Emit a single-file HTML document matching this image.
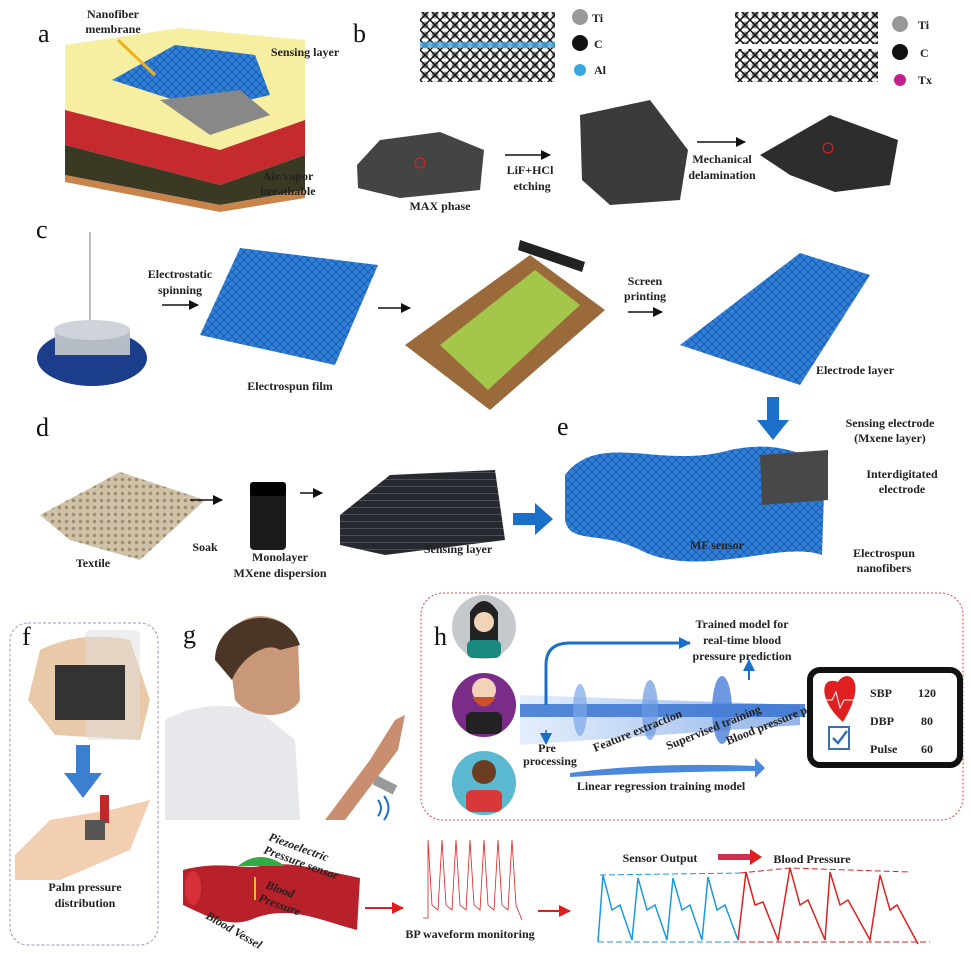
<!DOCTYPE html>
<html><head><meta charset="utf-8"><style>
html,body{margin:0;padding:0;background:#fff}
svg{display:block}
text{font-family:"Liberation Serif",serif;font-weight:bold;font-size:12px;fill:#222}
.L{font-weight:normal;font-size:26px;fill:#111}
.c{text-anchor:middle}
</style></head><body>
<svg width="971" height="954" viewBox="0 0 971 954" xmlns="http://www.w3.org/2000/svg">
<defs>
<pattern id="mesh" width="8" height="8" patternUnits="userSpaceOnUse"><rect width="8" height="8" fill="#2f80d8"/><path d="M0 8L8 0M0 0L8 8" stroke="#1a55a8" stroke-width=".8"/></pattern>
<pattern id="dmesh" width="7" height="7" patternUnits="userSpaceOnUse"><rect width="7" height="7" fill="#262a30"/><path d="M0 3.5H7" stroke="#4a4e55" stroke-width="1"/></pattern>
<pattern id="tex" width="7" height="7" patternUnits="userSpaceOnUse"><rect width="7" height="7" fill="#cfc2a8"/><circle cx="3.5" cy="3.5" r="1.8" fill="#a09070"/></pattern>
<pattern id="xtal" width="10" height="10" patternUnits="userSpaceOnUse"><rect width="10" height="10" fill="#fff"/><circle cx="5" cy="5" r="3.5" fill="#999"/><path d="M0 0L10 10M10 0L0 10" stroke="#111" stroke-width="1.5"/></pattern>
<marker id="ah" markerUnits="userSpaceOnUse" markerWidth="10" markerHeight="10" refX="9" refY="5" orient="auto"><path d="M0 0L10 5L0 10z" fill="#111"/></marker>
<marker id="ar" markerUnits="userSpaceOnUse" markerWidth="12" markerHeight="12" refX="11" refY="6" orient="auto"><path d="M0 0L12 6L0 12z" fill="#e02020"/></marker>
<marker id="ab" markerUnits="userSpaceOnUse" markerWidth="12" markerHeight="12" refX="11" refY="6" orient="auto"><path d="M0 0L12 6L0 12z" fill="#1a6fc9"/></marker>
<linearGradient id="beam" x1="0" x2="1"><stop offset="0" stop-color="#cfe2fb"/><stop offset="1" stop-color="#3b78d8"/></linearGradient>
</defs>

<!-- a -->
<text class="L" x="38" y="42">a</text>
<path d="M65 45 L180 28 L305 40 L305 120 L220 150 L65 110Z" fill="#f6eea0"/>
<path d="M65 110 L220 150 L305 120 L305 155 L220 185 L65 145Z" fill="#c42a2e"/>
<path d="M65 145 L220 185 L305 155 L305 190 L220 205 L65 175Z" fill="#3a3a24"/>
<path d="M65 175 L220 205 L305 190 L305 198 L220 212 L65 182Z" fill="#c8844a"/>
<path d="M112 80 L175 45 L255 55 L270 95 L205 110Z" fill="url(#mesh)"/>
<path d="M160 100 L240 90 L270 115 L210 135Z" fill="#888"/>
<line x1="118" y1="40" x2="155" y2="75" stroke="#f0b020" stroke-width="3"/>
<text class="c" x="113" y="18">Nanofiber</text><text class="c" x="113" y="33">membrane</text>
<text class="c" x="305" y="56">Sensing layer</text>
<text class="c" x="288" y="180">Air/vapor</text><text class="c" x="288" y="195">breathable</text>

<!-- b -->
<text class="L" x="353" y="42">b</text>
<rect x="420" y="12" width="135" height="70" fill="url(#xtal)"/>
<rect x="420" y="42" width="135" height="6" fill="#4aa8e0" opacity=".8"/>
<rect x="735" y="12" width="143" height="70" fill="url(#xtal)"/>
<rect x="735" y="44" width="143" height="5" fill="#fff"/>
<circle cx="580" cy="17" r="8" fill="#999"/><text x="592" y="22">Ti</text>
<circle cx="580" cy="43" r="8" fill="#111"/><text x="594" y="48">C</text>
<circle cx="580" cy="70" r="6" fill="#36a8e0"/><text x="594" y="74">Al</text>
<circle cx="900" cy="24" r="8" fill="#999"/><text x="918" y="29">Ti</text>
<circle cx="900" cy="52" r="8" fill="#111"/><text x="920" y="57">C</text>
<circle cx="900" cy="80" r="6" fill="#c0208a"/><text x="918" y="84">Tx</text>
<path d="M357 165 L380 140 L440 132 L484 150 L480 190 L400 198 L358 188Z" fill="#444"/>
<path d="M580 115 L650 100 L688 150 L680 200 L610 205 L582 180Z" fill="#3b3b3b"/>
<path d="M760 155 L830 115 L898 140 L890 185 L835 192 L790 175Z" fill="#2d2d2d"/>
<circle cx="420" cy="163" r="5" fill="none" stroke="#e02020"/>
<circle cx="828" cy="148" r="5" fill="none" stroke="#e02020"/>
<text class="c" x="440" y="210">MAX phase</text>
<line x1="505" y1="155" x2="550" y2="155" stroke="#111" stroke-width="1.5" marker-end="url(#ah)"/>
<text class="c" x="530" y="174">LiF+HCl</text><text class="c" x="532" y="190">etching</text>
<line x1="697" y1="142" x2="745" y2="142" stroke="#111" stroke-width="1.5" marker-end="url(#ah)"/>
<text class="c" x="722" y="163">Mechanical</text><text class="c" x="722" y="179">delamination</text>

<!-- c -->
<text class="L" x="36" y="238">c</text>
<line x1="90" y1="232" x2="90" y2="320" stroke="#777"/>
<ellipse cx="92" cy="358" rx="55" ry="28" fill="#1b3d8a"/>
<rect x="55" y="330" width="75" height="25" fill="#b5bcc6"/>
<ellipse cx="92" cy="330" rx="38" ry="10" fill="#cfd4da"/>
<text class="c" x="180" y="278">Electrostatic</text><text class="c" x="180" y="294">spinning</text>
<line x1="162" y1="305" x2="198" y2="305" stroke="#111" stroke-width="1.5" marker-end="url(#ah)"/>
<path d="M240 248 L378 265 L335 365 L200 335Z" fill="url(#mesh)"/>
<text class="c" x="290" y="390">Electrospun film</text>
<line x1="378" y1="308" x2="410" y2="308" stroke="#111" stroke-width="1.5" marker-end="url(#ah)"/>
<path d="M405 345 L530 255 L605 310 L490 410Z" fill="#9a6a3a"/>
<path d="M440 345 L535 270 L580 305 L488 390Z" fill="#a4c64a"/>
<path d="M520 240 L585 262 L582 272 L518 250Z" fill="#222"/>
<text class="c" x="645" y="285">Screen</text><text class="c" x="645" y="300">printing</text>
<line x1="628" y1="312" x2="662" y2="312" stroke="#111" stroke-width="1.5" marker-end="url(#ah)"/>
<path d="M800 253 L870 275 L800 385 L680 345Z" fill="url(#mesh)"/>
<text class="c" x="855" y="374">Electrode layer</text>
<path d="M767 397h12v23h10l-16 20-16-20h10z" fill="#1a70c8"/>

<!-- d -->
<text class="L" x="36" y="436">d</text>
<path d="M40 515 L120 472 L205 500 L140 560 L70 540Z" fill="url(#tex)"/>
<text class="c" x="93" y="567">Textile</text>
<line x1="190" y1="500" x2="222" y2="500" stroke="#111" stroke-width="1.5" marker-end="url(#ah)"/>
<text class="c" x="205" y="551">Soak</text>
<rect x="250" y="488" width="36" height="62" rx="4" fill="#1a1a1a"/>
<rect x="250" y="482" width="36" height="14" rx="3" fill="#000"/>
<text class="c" x="280" y="561">Monolayer</text><text class="c" x="280" y="577">MXene dispersion</text>
<line x1="300" y1="493" x2="322" y2="493" stroke="#111" stroke-width="1.5" marker-end="url(#ah)"/>
<path d="M340 515 L390 475 L495 470 L505 540 L385 555 L340 545Z" fill="url(#dmesh)"/>
<text class="c" x="458" y="553">Sensing layer</text>
<path d="M513 513h22v-10l18 16-18 16v-10h-22z" fill="#1a70c8"/>

<!-- e -->
<text class="L" x="557" y="435">e</text>
<path d="M565 475 C600 430 660 470 730 450 C780 440 800 455 825 462 L822 555 C780 540 700 580 640 550 C600 530 570 545 565 520Z" fill="url(#mesh)"/>
<path d="M760 455 L828 450 L828 500 L762 505Z" fill="#484848"/>
<text class="c" x="717" y="549">MF sensor</text>
<text class="c" x="890" y="427">Sensing electrode</text><text class="c" x="890" y="442">(Mxene layer)</text>
<text class="c" x="902" y="478">Interdigitated</text><text class="c" x="902" y="493">electrode</text>
<text class="c" x="884" y="557">Electrospun</text><text class="c" x="884" y="572">nanofibers</text>

<!-- f -->
<rect x="10" y="623" width="148" height="322" rx="18" fill="none" stroke="#9a9ac0" stroke-dasharray="3 2"/>
<text class="L" x="22" y="645">f</text>
<path d="M40 650 Q80 630 130 640 L150 700 L140 740 L55 735 L28 700Z" fill="#e8caa8"/>
<rect x="85" y="630" width="55" height="110" rx="6" fill="#ddd" opacity=".5"/>
<rect x="55" y="665" width="70" height="55" fill="#333"/>
<path d="M76 745h14v28h12l-19 25-19-25h12z" fill="#3a7fd0"/>
<path d="M15 855 L50 820 L110 810 L150 800 L130 850 L60 880 L15 880Z" fill="#f2cfb0"/>
<rect x="100" y="795" width="9" height="28" fill="#c0282a"/>
<rect x="85" y="820" width="20" height="20" fill="#555"/>
<text class="c" x="85" y="891" font-size="13">Palm pressure</text><text class="c" x="85" y="907" font-size="13">distribution</text>

<!-- g -->
<text class="L" x="183" y="643">g</text>
<path d="M165 720 C200 700 240 705 260 712 L295 740 L300 820 L165 820Z" fill="#e6e8ec"/>
<path d="M228 645 C230 610 280 605 298 640 L300 700 C290 720 250 720 235 700Z" fill="#c99878"/>
<path d="M215 660 C215 615 285 600 300 645 L280 650 C265 640 240 660 232 680Z" fill="#4a3526"/>
<path d="M325 820 L370 760 L395 720 L405 715 L398 750 L345 820Z" fill="#c98e70"/>
<path d="M375 780 L395 790" stroke="#999" stroke-width="10"/>
<path d="M378 800 q6 8 0 16 M384 796 q9 12 0 24" stroke="#1a6fc9" fill="none" stroke-width="2"/>
<path d="M183 870 C220 860 245 870 260 866 C290 860 320 870 360 878 L357 930 C320 920 290 905 255 918 C230 930 205 915 183 905Z" fill="#b8202a"/>
<ellipse cx="193" cy="888" rx="8" ry="17" fill="#d8303a"/>
<path d="M238 866 Q260 848 285 866Z" fill="#33aa44"/>
<text x="268" y="840" font-size="10" font-style="italic" transform="rotate(20 268 840)">Piezoelectric</text>
<text x="263" y="853" font-size="10" font-style="italic" transform="rotate(20 263 853)">Pressure sensor</text>
<line x1="255" y1="877" x2="255" y2="900" stroke="#f0c020" stroke-width="2"/>
<text x="265" y="888" font-size="10" font-style="italic" fill="#f0d040" transform="rotate(20 265 888)">Blood</text>
<text x="258" y="901" font-size="10" font-style="italic" fill="#f0d040" transform="rotate(20 258 901)">Pressure</text>
<text x="205" y="918" font-size="13" font-style="italic" transform="rotate(30 205 918)">Blood Vessel</text>
<line x1="365" y1="908" x2="403" y2="908" stroke="#e02020" stroke-width="2" marker-end="url(#ar)"/>
<polyline points="423,918 428,918 428,840 432,905 438,910 442,840 446,905 452,910 456,840 460,905 466,910 470,840 474,905 480,910 484,840 488,905 494,910 498,840 502,905 508,910 512,840 516,905 522,920" fill="none" stroke="#e02020" stroke-width=".8"/>
<text class="c" x="470" y="938" font-size="10" fill="#e02020">BP waveform monitoring</text>
<line x1="538" y1="911" x2="570" y2="911" stroke="#e02020" stroke-width="2" marker-end="url(#ar)"/>
<text class="c" x="660" y="862" fill="#1aa0e8" font-family="Liberation Sans" font-weight="normal" font-size="13">Sensor Output</text>
<line x1="718" y1="857" x2="752" y2="857" stroke="#d03050" stroke-width="6"/>
<path d="M750 849 L762 857 L750 865Z" fill="#e02020"/>
<text class="c" x="812" y="863" fill="#e02020" font-family="Liberation Sans" font-weight="normal" font-size="13">Blood Pressure</text>
<path d="M600 875 L740 873" fill="none" stroke="#1a9ae0" stroke-dasharray="6 3"/>
<path d="M740 873 L790 868 L910 872" fill="none" stroke="#e02020" stroke-dasharray="6 3"/>
<path d="M598 942 H740" fill="none" stroke="#1a9ae0" stroke-dasharray="6 3"/>
<path d="M740 942 H930" fill="none" stroke="#e02020" stroke-dasharray="6 3"/>
<polyline points="598,942 603,875 612,910 620,905 632,940 638,878 647,910 655,905 667,940 673,878 682,910 690,905 702,940 708,877 717,910 725,905 738,940" fill="none" stroke="#1a9ae0" stroke-width="1.5"/>
<polyline points="738,940 746,872 755,905 763,902 778,940 790,868 800,905 808,900 825,940 830,872 840,905 848,900 870,940 880,875 890,910 897,905 918,944" fill="none" stroke="#e02020" stroke-width="1.5"/>

<!-- h -->
<rect x="421" y="593" width="542" height="227" rx="22" fill="none" stroke="#e04040" stroke-dasharray="2 2"/>
<text class="L" x="434" y="645">h</text>
<circle cx="484" cy="627" r="32" fill="#c5c8cc"/>
<path d="M470 612 Q484 590 498 612 L498 650 H470Z" fill="#222"/>
<circle cx="484" cy="622" r="10" fill="#f3d3b8"/><rect x="467" y="640" width="34" height="18" rx="6" fill="#1a8a80"/>
<circle cx="484" cy="705" r="32" fill="#7b2b88"/>
<circle cx="484" cy="690" r="12" fill="#f3d3b8"/><path d="M472 697 Q484 716 496 697Z" fill="#c8502a"/><rect x="466" y="712" width="36" height="22" rx="6" fill="#222"/>
<circle cx="484" cy="783" r="32" fill="#5ab8d0"/>
<circle cx="484" cy="772" r="12" fill="#6b3e22"/><rect x="466" y="790" width="36" height="22" rx="6" fill="#d83838"/>
<path d="M520 695 L800 705 L800 725 L520 745Z" fill="url(#beam)" opacity=".55"/>
<rect x="520" y="704" width="285" height="13" fill="#3a74d0" opacity=".85"/>
<ellipse cx="580" cy="710" rx="7" ry="26" fill="#7aa5e8" opacity=".7"/>
<ellipse cx="650" cy="710" rx="8" ry="30" fill="#6a98e0" opacity=".7"/>
<ellipse cx="722" cy="710" rx="10" ry="34" fill="#4a7ed8" opacity=".8"/>
<path d="M546 705 V665 Q546 643 570 643 H690" fill="none" stroke="#1a6fc9" stroke-width="3" marker-end="url(#ab)"/>
<line x1="749" y1="680" x2="749" y2="660" stroke="#1a6fc9" stroke-width="2" marker-end="url(#ab)"/>
<line x1="546" y1="730" x2="546" y2="744" stroke="#1a6fc9" stroke-width="1.5" marker-end="url(#ab)"/>
<text class="c" x="742" y="628">Trained model for</text><text class="c" x="742" y="644">real-time blood</text><text class="c" x="742" y="660">pressure prediction</text>
<text class="c" x="547" y="752" font-size="10">Pre</text><text class="c" x="550" y="765" font-size="10">processing</text>
<text x="595" y="752" font-size="9" transform="rotate(-22 595 752)">Feature extraction</text>
<text x="668" y="750" font-size="9" transform="rotate(-22 668 750)">Supervised training</text>
<text x="728" y="745" font-size="9" transform="rotate(-22 728 745)">Blood pressure prediction</text>
<path d="M570 773 Q650 762 755 766 L755 758 L765 768 L755 778 L755 771 Q650 772 570 777Z" fill="#4a88dc"/>
<text class="c" x="661" y="790" font-size="13">Linear regression training model</text>
<rect x="810" y="670" width="150" height="95" rx="10" fill="#fff" stroke="#111" stroke-width="6"/>
<path d="M843 722 C818 700 820 675 838 682 C846 668 870 678 843 722Z" fill="#e02020"/>
<polyline points="822,700 832,700 836,692 840,708 844,700 862,700" fill="none" stroke="#fff" stroke-width="1"/>
<rect x="829" y="727" width="20" height="22" fill="#fff" stroke="#3a6fb0" stroke-width="2"/>
<path d="M833 738 l5 5 l9 -12" stroke="#3a6fb0" stroke-width="2.5" fill="none"/>
<text x="870" y="697" font-size="18" fill="#111">SBP</text><text x="918" y="697" font-size="18" fill="#3a6fc0">120</text>
<text x="870" y="725" font-size="18" fill="#111">DBP</text><text x="921" y="725" font-size="18" fill="#3a6fc0">80</text>
<text x="870" y="753" font-size="18" fill="#111">Pulse</text><text x="921" y="753" font-size="18" fill="#3a6fc0">60</text>
</svg>
</body></html>
